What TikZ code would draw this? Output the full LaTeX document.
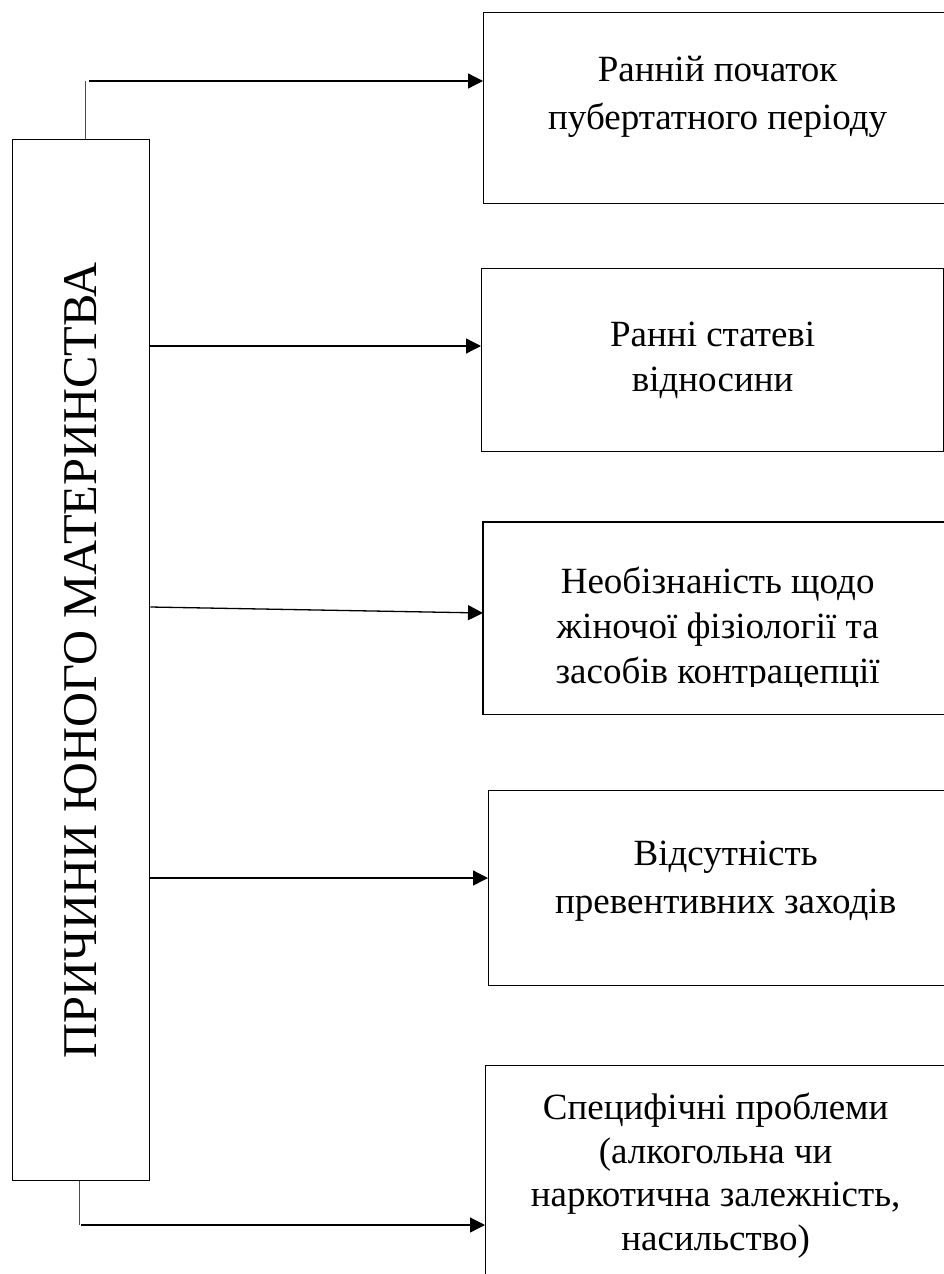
\documentclass[tikz,border=0pt]{standalone}
\usepackage{fontspec}
\setmainfont{Liberation Serif}
\usetikzlibrary{arrows.meta}

\tikzset{
  causebox/.style={draw, line width=1.3pt, rectangle, anchor=north west, inner sep=0pt, align=center},
  link/.style={line width=1.3pt, -{Triangle[length=15pt,width=15pt]}},
  stub/.style={line width=1pt, draw=black!70},
}

\begin{document}
\begin{tikzpicture}[x=1pt,y=-1pt,font=\fontsize{37}{47}\selectfont]
\useasboundingbox (0,0) rectangle (944,1274);

% main box with the rotated title
\node[causebox, minimum width=137pt, minimum height=1041pt] (mat) at (12,139) {};
\node[rotate=90, font=\fontsize{48.5}{56}\selectfont] (mattext) at (mat.center) {ПРИЧИНИ ЮНОГО МАТЕРИНСТВА};

% the causes
\node[causebox, minimum width=468pt, minimum height=191pt, font=\fontsize{37}{48}\selectfont] (puber) at (483,12) {Ранній початок\\пубертатного періоду\rule[-30pt]{0pt}{0pt}};
\node[causebox, minimum width=462pt, minimum height=183pt, font=\fontsize{37}{45}\selectfont] (sex) at (481,268) {Ранні статеві\\відносини};

\begin{scope}
\clip (470,515) rectangle (970,686);
\node[causebox, draw=none, minimum width=468pt, minimum height=191pt, font=\fontsize{37}{45}\selectfont] (ignor) at (483,522) {\rule{0pt}{48pt}Необізнаність щодо\\жіночої фізіології та\\засобів контрацепції};
\end{scope}
\draw[line width=1.3pt] (ignor.north west) rectangle (ignor.south east);

\node[causebox, minimum width=474pt, minimum height=195pt, font=\fontsize{37}{48}\selectfont] (prev) at (488,790) {Відсутність\\превентивних заходів\rule[-22pt]{0pt}{0pt}};
\node[causebox, minimum width=460pt, minimum height=220pt, font=\fontsize{37}{43.5}\selectfont] (spec) at (485,1065) {Специфічні проблеми\\(алкогольна чи\\наркотична залежність,\\насильство)};

% connectors
\coordinate (topbend) at (85,81);
\coordinate (botbend) at (79,1225);
\draw[stub] (mat.north -| topbend) -- (topbend);
\draw[link] ([xshift=4pt]topbend) -- (topbend -| puber.west);
\draw[link] (mat.east |- 0,346) -- (sex.west |- 0,346);
\draw[link] (mat.east |- 0,607) -- (ignor.west |- 0,613);
\draw[link] (mat.east |- 0,878) -- (prev.west |- 0,878);
\draw[stub] (mat.south -| botbend) -- (botbend);
\draw[link] ([xshift=2pt]botbend) -- (botbend -| spec.west);

\end{tikzpicture}
\end{document}
